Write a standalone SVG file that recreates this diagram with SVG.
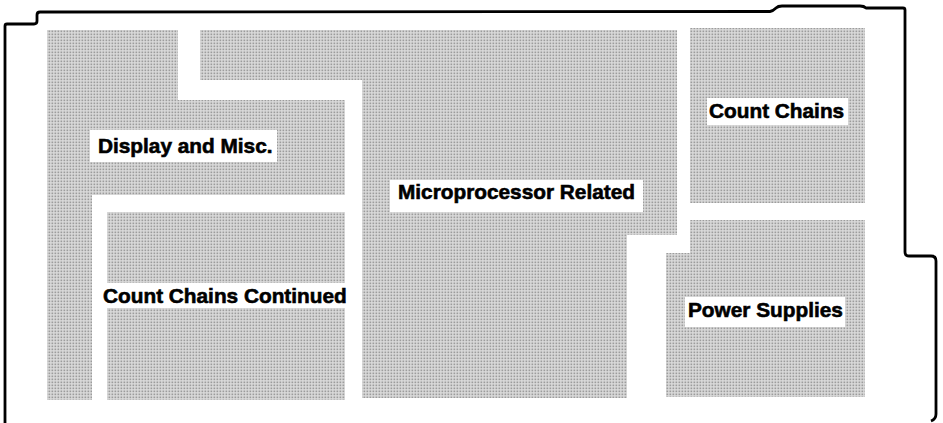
<svg xmlns="http://www.w3.org/2000/svg" width="943" height="423" viewBox="0 0 943 423">
<defs>
<pattern id="dots" width="3" height="3" patternUnits="userSpaceOnUse">
<rect width="3" height="3" fill="#dcdcdc"/>
<rect x="0.5" y="0.5" width="1.7" height="1.7" fill="#9c9c9c"/>
</pattern>
<style>
.area{fill:url(#dots);stroke:none}
.lbl{fill:#ffffff;stroke:none}
.t{font-family:"Liberation Sans",Arial,sans-serif;font-weight:bold;font-size:20.8px;fill:#000;stroke:#000;stroke-width:0.6}
.edge{fill:none;stroke:#000;stroke-width:2.8;stroke-linejoin:round}
</style>
</defs>
<rect width="943" height="423" fill="#ffffff"/>
<g id="outline">
<path class="edge" d="M5,423 V26 Q5,24 7,24 H34 Q37,24 37,21 V15 Q37,12 40,12 L770,11.5 Q773,11 776,8 Q778,6 782,6 L860,6 Q864,6 866,8 L903,8 Q905,8 905,10 V252 Q905,256 909,256 H931 Q936,256 936,261 V414 Q936,419 931,421"/>
</g>
<g id="display-misc">
<path class="area" d="M47,30 H178 V100 H345 V195 H92 V400 H47 Z"/>
<rect class="lbl" x="90" y="130" width="187" height="32"/>
<text class="t" x="98" y="153">Display and Misc.</text>
</g>
<g id="microprocessor">
<path class="area" d="M200,30 H677 V235 H627 V398 H362 V80 H200 Z"/>
<rect class="lbl" x="390" y="180" width="253" height="32"/>
<text class="t" x="398" y="199">Microprocessor Related</text>
</g>
<g id="count-chains-continued">
<rect class="area" x="107" y="212" width="238" height="188"/>
<rect class="lbl" x="96" y="283" width="252" height="25"/>
<text class="t" x="103" y="303">Count Chains Continued</text>
</g>
<g id="count-chains">
<rect class="area" x="690" y="28" width="175" height="175"/>
<rect class="lbl" x="707" y="98" width="141" height="27"/>
<text class="t" x="709" y="118">Count Chains</text>
</g>
<g id="power-supplies">
<path class="area" d="M690,220 H865 V397 H666 V253 H690 Z"/>
<rect class="lbl" x="685" y="297" width="160" height="30"/>
<text class="t" x="688" y="317">Power Supplies</text>
</g>
<g id="connectors"></g>
</svg>
